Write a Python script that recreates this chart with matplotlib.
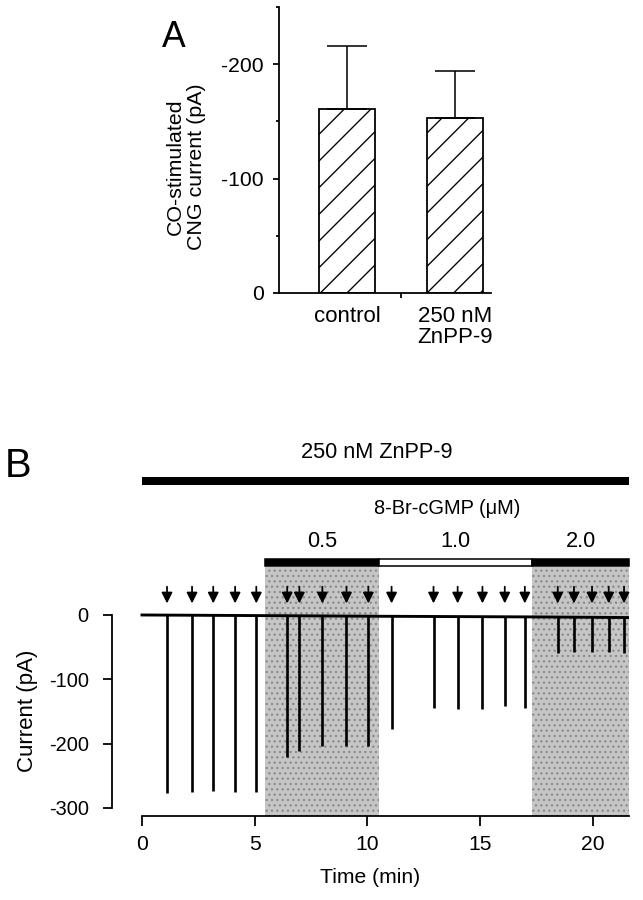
import numpy as np
import matplotlib
matplotlib.use('Agg')
import matplotlib.pyplot as plt
from matplotlib.patches import Rectangle

plt.rcParams['font.family'] = ['Liberation Sans', 'DejaVu Sans']
plt.rcParams['axes.unicode_minus'] = False
plt.rcParams['hatch.linewidth'] = 0.6

# ---------------- Panel A data ----------------
conditions = ['control', '250 nM\nZnPP-9']
co_current = [-161, -153]
co_sem = [55, 41]
a_yticks = [0, -100, -200]
a_minor = [-50, -150, -250]

# ---------------- Panel B data ----------------
stim_times = [1.11, 2.22, 3.16, 4.13, 5.07, 6.44, 6.98, 8.0, 9.07, 10.04,
              11.07, 12.93, 14.0, 15.1, 16.09, 16.98,
              18.44, 19.16, 19.96, 20.7, 21.38]
peak_current = [-277, -275, -274, -275, -275, -221, -211, -203, -203, -203,
                -177, -144, -146, -146, -141, -145,
                -59, -58, -58, -58, -59]
baseline_t = [0, 5.4, 10.5, 17.3, 21.6]
baseline_i = [0, -1, -2, -3, -4]
znpp_period = [0, 21.6]
znpp_label = '250 nM ZnPP-9'
cgmp_label = '8-Br-cGMP (μM)'
cgmp_start = [5.47, 10.5, 17.3]
cgmp_end = [10.5, 17.3, 21.6]
cgmp_conc = ['0.5', '1.0', '2.0']
cgmp_filled = [True, False, True]
b_xticks = [0, 5, 10, 15, 20]
b_yticks = [0, -100, -200, -300]

DPI = 160
fig = plt.figure(figsize=(643 / DPI, 900 / DPI), dpi=DPI)

# ================= Panel A =================
axA = fig.add_axes([279 / 643, (900 - 293) / 900, 212 / 643, 286 / 900])
x = np.arange(len(conditions))
axA.bar(x, co_current, width=0.52, color='white', edgecolor='black',
        linewidth=0.8, hatch='//', zorder=2)
axA.errorbar(x, co_current, yerr=[co_sem, [0] * len(co_sem)], fmt='none',
             ecolor='black', elinewidth=0.7, capsize=8.8, capthick=0.7, zorder=3)
axA.set_xlim(-0.63, 1.33)
axA.set_ylim(0, -250)
axA.spines['top'].set_visible(False)
axA.spines['right'].set_visible(False)
for s in ['left', 'bottom']:
    axA.spines[s].set_linewidth(0.8)
axA.set_yticks(a_yticks)
axA.set_yticklabels([str(v) for v in a_yticks])
axA.set_yticks(a_minor, minor=True)
axA.tick_params(axis='y', which='major', length=2.7, width=0.8, pad=4.0, labelsize=9.5)
axA.tick_params(axis='y', which='minor', length=1.4, width=0.8)
axA.set_xticks(x)
axA.set_xticklabels(conditions)
axA.set_xticks([0.5], minor=True)
axA.tick_params(axis='x', which='major', length=0, pad=6, labelsize=10)
axA.tick_params(axis='x', which='minor', length=2.2, width=0.8)
for lbl in axA.get_xticklabels():
    lbl.set_linespacing(0.95)
fig.text(186 / 643, 1 - 167 / 900, 'CO-stimulated\nCNG current (pA)', rotation=90,
         ha='center', va='center', fontsize=9.6, linespacing=1.15, multialignment='center')
fig.text(162 / 643, 1 - 47 / 900, 'A', fontsize=16, ha='left', va='baseline')

# ================= Panel B =================
ybot = -312.5
axB = fig.add_axes([112 / 643, (900 - 816) / 900, 517 / 643, 394 / 900])
axB.set_xlim(-1.33, 21.6)
axB.set_ylim(ybot, 300)

# shaded periods
for s, e, f in zip(cgmp_start, cgmp_end, cgmp_filled):
    if f:
        axB.add_patch(Rectangle((s, ybot), e - s, 74.6 - ybot, facecolor='#c6c6c6',
                                edgecolor='#8a8a8a', hatch='.....', linewidth=0,
                                zorder=0, clip_on=False))

# trace
axB.plot(baseline_t, baseline_i, color='black', lw=1.3, zorder=3)
base = np.interp(stim_times, baseline_t, baseline_i)
axB.vlines(stim_times, base, peak_current, color='black', lw=1.2, zorder=3)

# arrows
for t in stim_times:
    axB.annotate('', xy=(t, 18), xytext=(t, 44),
                 arrowprops=dict(arrowstyle='-|>', color='black', lw=0.8,
                                 mutation_scale=10, shrinkA=0, shrinkB=0),
                 annotation_clip=False)

# cGMP bars
for s, e, f, c in zip(cgmp_start, cgmp_end, cgmp_filled, cgmp_conc):
    axB.add_patch(Rectangle((s, 76), e - s, 11, facecolor='black' if f else 'white',
                            edgecolor='black', linewidth=0.7, clip_on=False, zorder=4))
    axB.text((s + e) / 2, 115, c, ha='center', va='center', fontsize=9.8)
axB.text((cgmp_start[0] + cgmp_end[-1]) / 2, 165, cgmp_label, ha='center',
         va='center', fontsize=9)

# ZnPP bar
axB.add_patch(Rectangle((znpp_period[0], 202), znpp_period[1] - znpp_period[0], 12.5,
                        facecolor='black', edgecolor='black', linewidth=0,
                        clip_on=False, zorder=4))
axB.text(10.4, 253, znpp_label, ha='center', va='center', fontsize=9.8)

axB.spines['top'].set_visible(False)
axB.spines['right'].set_visible(False)
axB.spines['left'].set_bounds(-300, 0)
axB.spines['bottom'].set_bounds(0, 21.6)
for s in ['left', 'bottom']:
    axB.spines[s].set_linewidth(0.8)
axB.set_xticks(b_xticks)
axB.set_yticks(b_yticks)
axB.set_yticklabels([str(v) for v in b_yticks])
axB.tick_params(axis='y', length=4, width=0.8, pad=6.5, labelsize=9)
axB.tick_params(axis='x', length=4.5, width=0.8, pad=4, labelsize=9.5)
axB.set_xlabel('Time (min)', fontsize=9.5, labelpad=6.5)
fig.text(28 / 643, 1 - 711 / 900, 'Current (pA)', rotation=90, ha='center',
         va='center', fontsize=10)
fig.text(5 / 643, 1 - 477 / 900, 'B', fontsize=18, ha='left', va='baseline')

fig.savefig('out.png', dpi=DPI)
